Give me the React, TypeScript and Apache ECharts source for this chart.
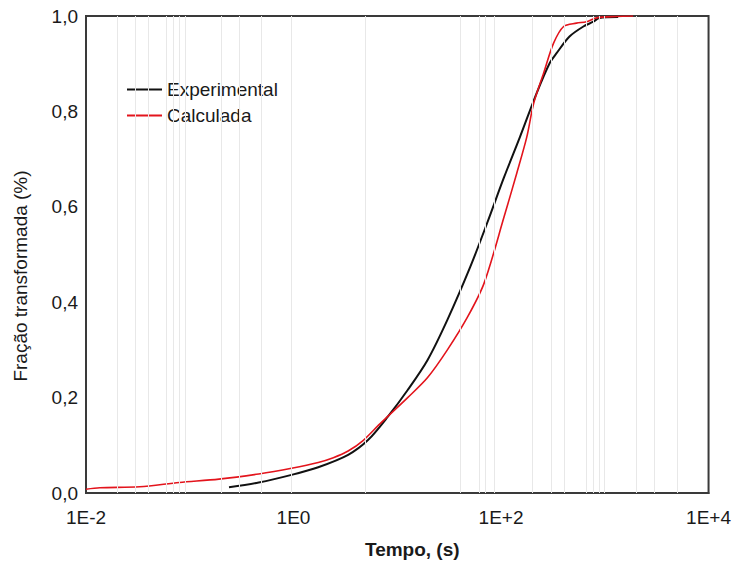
import React, { useEffect, useRef } from "react";
import * as echarts from "echarts";

// Experimental curve: time (s) and transformed fraction
const expTime = [0.239, 0.462, 0.957, 1.73, 3.36, 5.22, 8.11, 12.6, 19.6, 30.4, 50.5, 73.5, 107, 152, 221, 294, 343, 457, 622, 776, 885, 1346];
const expFrac = [0.012, 0.022, 0.038, 0.054, 0.080, 0.111, 0.160, 0.216, 0.279, 0.363, 0.474, 0.566, 0.662, 0.746, 0.839, 0.901, 0.922, 0.957, 0.978, 0.988, 0.996, 0.998];

// Calculated curve
const calcTime = [0.01, 0.0136, 0.0329, 0.0794, 0.191, 0.462, 0.957, 1.73, 2.42, 3.36, 4.68, 6.8, 12.6, 19.6, 30.4, 47.3, 68.7, 107, 142, 177, 207, 258, 321, 401, 533, 665, 830, 1288, 1875];
const calcFrac = [0.008, 0.011, 0.013, 0.022, 0.029, 0.040, 0.052, 0.064, 0.074, 0.088, 0.110, 0.145, 0.200, 0.242, 0.300, 0.368, 0.440, 0.579, 0.671, 0.746, 0.818, 0.881, 0.943, 0.978, 0.985, 0.988, 0.996, 0.999, 1.0];

// Faint vertical reference lines (time, s)
const gridTimes = [0.0198, 0.0258, 0.0308, 0.0392, 0.0583, 0.068, 0.0795, 0.0927, 0.2, 0.298, 0.494, 0.957, 4.89, 40.5, 61.5, 70.3, 85.7, 198, 308, 410, 665, 776, 886, 989, 2000, 2978, 5047];

const yTicks = [0, 0.2, 0.4, 0.6, 0.8, 1.0];

const FONT = "Liberation Sans, Arial, sans-serif";

export default function App() {
  const ref = useRef<HTMLDivElement>(null);
  useEffect(() => {
    if (!ref.current) return;
    const chart = echarts.init(ref.current, undefined, { renderer: "svg" });
    const pair = (xs: number[], ys: number[]) => xs.map((x, i) => [x, ys[i]]);
    chart.setOption({
      animation: false,
      backgroundColor: "#ffffff",
      textStyle: { fontFamily: FONT },
      grid: {
        left: 86,
        right: 21,
        top: 16,
        bottom: 76,
        show: true,
        borderColor: "#3a3a3a",
        borderWidth: 2,
        backgroundColor: "transparent",
      },
      graphic: [
        {
          type: "text",
          x: 20,
          y: 276,
          rotation: Math.PI / 2,
          silent: true,
          style: {
            text: "Fração transformada (%)",
            font: `19px ${FONT}`,
            fill: "#1a1a1a",
            textAlign: "center",
            textVerticalAlign: "middle",
          },
        },
      ],
      legend: {
        orient: "vertical",
        left: 127,
        top: 80,
        padding: 0,
        itemWidth: 35,
        itemHeight: 2,
        itemGap: 7,
        icon: "rect",
        textStyle: { fontFamily: FONT, fontSize: 19, color: "#1a1a1a" },
        data: ["Experimental", "Calculada"],
      },
      xAxis: {
        type: "log",
        logBase: 10,
        min: 0.01,
        max: 10000,
        interval: 2,
        name: "Tempo, (s)",
        nameLocation: "middle",
        nameGap: 47,
        nameTextStyle: {
          fontFamily: FONT,
          fontSize: 19,
          fontWeight: "bold",
          color: "#1a1a1a",
          padding: [0, 0, 0, 30],
        },
        axisLine: { show: true, lineStyle: { color: "#3a3a3a", width: 2 } },
        axisTick: { show: false },
        splitLine: { show: false },
        axisLabel: {
          margin: 15,
          fontFamily: FONT,
          fontSize: 19,
          color: "#1a1a1a",
          formatter: (v: number) => {
            const e = Math.round(Math.log10(v));
            if (e % 2 !== 0) return "";
            return e === 0 ? "1E0" : e > 0 ? `1E+${e}` : `1E${e}`;
          },
        },
      },
      yAxis: {
        type: "value",
        min: yTicks[0],
        max: yTicks[yTicks.length - 1],
        interval: 0.2,
        axisLine: { show: true, lineStyle: { color: "#3a3a3a", width: 2 } },
        axisTick: { show: false },
        splitLine: { show: false },
        axisLabel: {
          margin: 8,
          fontFamily: FONT,
          fontSize: 19,
          color: "#1a1a1a",
          formatter: (v: number) => v.toFixed(1).replace(".", ","),
        },
      },
      series: [
        {
          name: "Grid",
          type: "line",
          data: [],
          silent: true,
          markLine: {
            silent: true,
            symbol: "none",
            label: { show: false },
            lineStyle: { color: "#e8e8e8", width: 1, type: "solid" },
            data: gridTimes.map((t) => ({ xAxis: t })),
          },
        },
        {
          name: "Experimental",
          type: "line",
          data: pair(expTime, expFrac),
          showSymbol: false,
          symbol: "none",
          smooth: 0.3,
          color: "#111111",
          lineStyle: { color: "#111111", width: 2 },
          z: 3,
        },
        {
          name: "Calculada",
          type: "line",
          data: pair(calcTime, calcFrac),
          showSymbol: false,
          symbol: "none",
          smooth: 0.3,
          color: "#e3141c",
          lineStyle: { color: "#e3141c", width: 1.6 },
          z: 4,
        },
      ],
    });
    return () => chart.dispose();
  }, []);
  return (
    <div
      ref={ref}
      style={{ position: "absolute", left: 0, top: 0, width: 734, height: 569 }}
    />
  );
}
